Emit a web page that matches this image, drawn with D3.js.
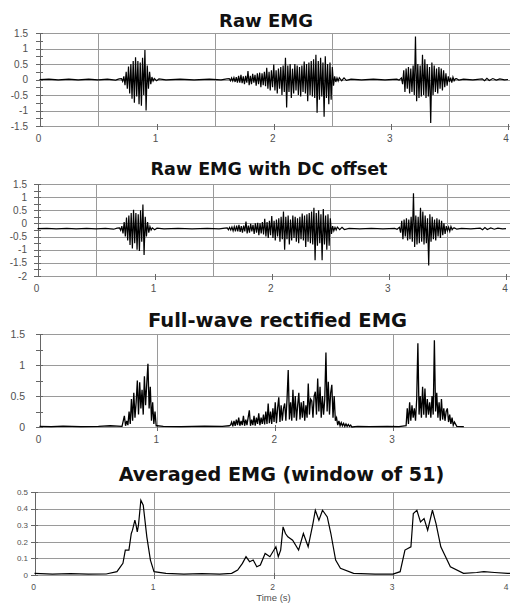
<!DOCTYPE html>
<html lang="en">
<head>
    <meta charset="utf-8">
    <title>EMG processing</title>
    <style>
        body {
            margin: 0;
            background: #fff;
        }
        svg { display: block; }
        .title {
            font-family: "DejaVu Sans", sans-serif;
            font-weight: bold;
            fill: #111;
            text-anchor: middle;
        }
        .tick-label {
            font-family: "Liberation Sans", Arial, sans-serif;
            fill: #505050;
        }
        .grid {
            stroke: #9a9a9a;
            stroke-width: 1px;
            shape-rendering: crispEdges;
        }
        .axis-line {
            stroke: #666;
            stroke-width: 1px;
            shape-rendering: crispEdges;
        }
        .signal {
            fill: none;
            stroke: #000;
        }
    </style>
    <script src="https://cdn.jsdelivr.net/npm/d3@7"></script>
</head>
<body>
<div id="chart"></div>
<script>
// time ticks shared by all panels (s)
var timeTicks = [0, 1, 2, 3, 4];
var sampleStep = 0.01;

// panel 1 - raw EMG
var rawYTicks = [-1.5, -1, -0.5, 0, 0.5, 1, 1.5];
var rawBurstStarts = [0.70, 1.62, 3.09];
var rawBurst1 = [0.03,-0.06,0.1,-0.18,0.25,-0.3,0.42,-0.45,0.5,-0.62,0.6,-0.75,0.72,-0.55,0.6,-0.8,0.55,-0.85,0.7,-0.5,0.95,-1.0,0.45,-0.3,0.25,-0.15,0.08,-0.05];
var rawBurst2 = [0.03,-0.04,0.05,-0.05,0.06,-0.08,0.08,-0.1,0.12,-0.1,
    0.15,-0.12,0.1,-0.15,0.12,-0.1,0.27,-0.18,0.12,-0.15,
    0.18,-0.1,0.15,-0.2,0.2,-0.15,0.22,-0.25,0.2,-0.18,
    0.25,-0.22,0.38,-0.3,0.25,-0.35,0.3,-0.25,0.48,-0.35,
    0.3,-0.45,0.35,-0.3,0.4,-0.5,0.45,-0.4,0.7,-0.9,
    0.45,-0.4,0.5,-0.6,0.35,-0.45,0.5,-0.35,0.45,-0.5,
    0.4,-0.55,0.45,-0.4,0.58,-0.45,0.5,-0.7,0.55,-0.5,
    0.6,-0.55,0.65,-0.6,0.8,-1.07,0.6,-0.65,0.7,-0.55,
    0.55,-1.2,0.75,-0.6,0.5,-0.8,0.55,-0.65,0.4,-0.2,
    0.1,-0.08,0.05];
var rawBurst3 = [0.05,-0.15,0.3,-0.4,0.35,-0.3,0.4,-0.45,0.35,-0.4,
    0.45,-0.5,1.39,-0.7,0.5,-0.6,0.45,-0.55,0.8,-0.5,
    0.65,-0.6,0.5,-0.55,0.4,-1.4,0.55,-0.5,0.45,-0.4,
    0.35,-0.45,0.4,-0.3,0.35,-0.35,0.3,-0.25,0.2,-0.2,
    0.1,-0.08,0.06,-0.1,0.08,-0.04,0.02];
var rawQuiet = [[0,0],[0.08,0.01],[0.16,-0.01],[0.25,0.01],[0.33,-0.01],[0.42,0.01],[0.5,-0.01],[0.58,0.01],[0.65,-0.02],[0.68,0.02],
    [0.98,0.03],[1.0,-0.04],[1.02,0.02],[1.08,-0.01],[1.2,0.01],[1.32,-0.01],[1.45,0.01],[1.55,-0.01],[1.6,0.02],
    [2.55,-0.05],[2.56,0.06],[2.58,-0.04],[2.6,0.05],[2.62,-0.03],[2.66,0.01],[2.75,-0.01],[2.85,0.01],[2.95,-0.01],[3.05,0.01],[3.07,-0.02],
    [3.56,0.03],[3.58,-0.02],[3.62,0.01],[3.7,-0.01],[3.78,0.02],[3.8,-0.04],[3.82,0.04],[3.84,-0.03],[3.87,0.03],[3.9,-0.02],[3.93,0.02],[3.97,-0.01],[4.0,0]];

// panel 2 - raw EMG with DC offset
var dcYTicks = [-2, -1.5, -1, -0.5, 0, 0.5, 1, 1.5];
var dcBurstStarts = [0.70, 1.62, 3.09];
var dcBurst1 = [-0.17,-0.26,-0.1,-0.38,0.05,-0.5,0.22,-0.65,0.3,-0.82,0.4,-0.95,0.52,-0.75,0.4,-1.0,0.35,-1.05,0.5,-0.7,0.72,-1.2,0.25,-0.5,0.05,-0.35,-0.12,-0.25];
var dcBurst2 = [-0.17,-0.24,-0.15,-0.25,-0.14,-0.28,-0.12,-0.3,-0.08,-0.3,
    -0.05,-0.32,-0.1,-0.35,-0.08,-0.3,0.07,-0.38,-0.08,-0.35,
    -0.02,-0.3,-0.05,-0.4,0.0,-0.35,0.02,-0.45,0.0,-0.38,
    0.05,-0.42,0.18,-0.5,0.05,-0.55,0.1,-0.45,0.28,-0.55,
    0.1,-0.65,0.15,-0.5,0.2,-0.7,0.25,-0.6,0.45,-1.0,
    0.25,-0.6,0.3,-0.8,0.15,-0.65,0.3,-0.55,0.25,-0.7,
    0.2,-0.75,0.25,-0.6,0.38,-0.65,0.3,-0.9,0.35,-0.7,
    0.4,-0.75,0.45,-0.8,0.6,-1.4,0.4,-0.85,0.5,-0.75,
    0.35,-1.4,0.55,-0.8,0.3,-1.0,0.35,-0.85,0.2,-0.4,
    -0.1,-0.28,-0.15];
var dcBurst3 = [-0.15,-0.35,0.1,-0.6,0.15,-0.5,0.2,-0.65,0.15,-0.6,
    0.25,-0.7,1.15,-0.9,0.3,-0.8,0.25,-0.75,0.6,-0.7,
    0.45,-0.8,0.3,-0.75,0.2,-1.6,0.35,-0.7,0.25,-0.6,
    0.15,-0.65,0.2,-0.5,0.15,-0.55,0.1,-0.45,0.0,-0.4,
    -0.1,-0.28,-0.14,-0.3,-0.12,-0.24,-0.18];
var dcQuiet = [[0,-0.2],[0.08,-0.19],[0.16,-0.21],[0.25,-0.19],[0.33,-0.21],[0.42,-0.19],[0.5,-0.21],[0.58,-0.19],[0.65,-0.22],[0.68,-0.18],
    [0.98,-0.17],[1.0,-0.24],[1.02,-0.18],[1.08,-0.21],[1.2,-0.19],[1.32,-0.21],[1.45,-0.19],[1.55,-0.21],[1.6,-0.18],
    [2.55,-0.25],[2.56,-0.14],[2.58,-0.24],[2.6,-0.15],[2.62,-0.23],[2.66,-0.19],[2.75,-0.21],[2.85,-0.19],[2.95,-0.21],[3.05,-0.19],[3.07,-0.22],
    [3.56,-0.17],[3.58,-0.22],[3.62,-0.19],[3.7,-0.21],[3.78,-0.18],[3.8,-0.24],[3.82,-0.16],[3.84,-0.23],[3.87,-0.17],[3.9,-0.22],[3.93,-0.18],[3.97,-0.21],[4.0,-0.2]];

// panel 3 - full-wave rectified
var rectYTicks = [0, 0.5, 1, 1.5];
var rectTimeTicks = [0, 1, 2, 3];
var rectBurstStarts = [0.72, 1.62, 3.12];
var rectBurst1 = [0.18,0.02,0.1,0.03,0.25,0.05,0.45,0.1,0.55,0.15,0.4,0.75,0.2,0.72,0.3,0.6,0.2,0.82,0.35,0.7,1.02,0.3,0.65,0.1,0.4,0.05,0.25,0.02];
var rectBurst2 = [0.03,0.08,0.01,0.1,0.02,0.12,0.03,0.15,0.02,0.1,
    0.03,0.18,0.02,0.12,0.03,0.15,0.27,0.02,0.12,0.03,
    0.18,0.02,0.15,0.05,0.22,0.03,0.15,0.05,0.2,0.04,
    0.25,0.05,0.38,0.06,0.25,0.05,0.3,0.08,0.4,0.06,
    0.3,0.48,0.08,0.35,0.1,0.3,0.38,0.1,0.45,0.92,
    0.12,0.4,0.1,0.6,0.15,0.5,0.1,0.35,0.55,0.12,
    0.4,0.15,0.42,0.1,0.35,0.15,0.7,0.2,0.45,0.42,
    0.15,0.5,0.57,0.2,0.78,0.25,0.65,0.15,0.5,0.2,
    0.45,1.2,0.25,0.73,0.2,0.55,0.68,0.15,0.5,0.1,
    0.15,0.03,0.1,0.02,0.07,0.02,0.06,0.01,0.05,0.01,
    0.04,0.01,0.03,0.0];
var rectBurst3 = [0.3,0.05,0.4,0.1,0.35,0.15,0.3,0.1,0.45,1.35,
    0.2,0.5,0.15,0.65,0.2,0.62,0.15,0.45,0.2,0.4,
    0.15,0.5,0.2,1.4,0.25,0.55,0.15,0.4,0.1,0.45,
    0.12,0.3,0.1,0.25,0.3,0.08,0.2,0.05,0.15,0.03,0.08];
var rectQuiet = [[0,0.01],[0.1,0.005],[0.2,0.015],[0.35,0.005],[0.5,0.01],[0.6,0.02],[0.7,0.01],
    [1.0,0.02],[1.05,0.01],[1.2,0.005],[1.4,0.015],[1.55,0.01],[1.61,0.02],
    [2.7,0.01],[2.8,0.005],[2.95,0.01],[3.05,0.005],[3.11,0.02],[3.54,0.01],[3.6,0.005]];

// panel 4 - moving average, [time, value]
var avgYTicks = [0, 0.1, 0.2, 0.3, 0.4, 0.5];
var avgPoints = [[0,0.01],[0.15,0.005],[0.3,0.008],[0.45,0.005],[0.6,0.006],[0.69,0.02],[0.72,0.05],[0.74,0.07],[0.76,0.15],[0.79,0.15],
    [0.81,0.25],[0.82,0.27],[0.84,0.33],[0.85,0.3],[0.86,0.26],[0.87,0.3],[0.89,0.45],[0.91,0.42],[0.94,0.23],[0.97,0.09],
    [1.0,0.02],[1.1,0.01],[1.25,0.005],[1.4,0.008],[1.55,0.005],[1.65,0.01],[1.7,0.03],[1.74,0.07],[1.77,0.11],[1.8,0.08],
    [1.83,0.09],[1.86,0.05],[1.89,0.06],[1.93,0.13],[1.97,0.11],[2.02,0.17],[2.04,0.11],[2.06,0.15],[2.08,0.29],[2.1,0.25],
    [2.12,0.23],[2.16,0.21],[2.21,0.15],[2.25,0.25],[2.29,0.17],[2.33,0.31],[2.35,0.39],[2.38,0.33],[2.41,0.39],[2.45,0.35],
    [2.48,0.25],[2.52,0.09],[2.56,0.04],[2.67,0.01],[2.85,0.005],[3.0,0.005],[3.06,0.02],[3.1,0.15],[3.15,0.17],[3.17,0.37],
    [3.2,0.39],[3.23,0.32],[3.26,0.34],[3.29,0.27],[3.33,0.39],[3.36,0.31],[3.4,0.17],[3.44,0.11],[3.48,0.05],[3.59,0.01],
    [3.7,0.015],[3.76,0.02],[3.85,0.015],[3.96,0.01],[4.0,0.01]];

// put sampled bursts and quiet stretches together in time order
function joinSeries(starts, bursts, quiet) {
    var pts = quiet.slice();
    bursts.forEach(function(b, i) {
        b.forEach(function(v, j) { pts.push([starts[i] + j * sampleStep, v]); });
    });
    pts.sort(function(a, b) { return a[0] - b[0]; });
    return pts;
}

function minorTicks(ticks) {
    var out = [];
    for (var i = 0; i < ticks.length - 1; i++) out.push((ticks[i] + ticks[i + 1]) / 2);
    return out;
}

var panels = [
    {
        title: "Raw EMG", titleX: 266, titleY: 26.5, titleSize: 18,
        xRange: [39.5, 508], yDomain: [-1.5, 1.5], yRange: [126, 33],
        yTicks: rawYTicks, minor: true, vGrid: [0.5, 1.5, 2.5, 3.5], xLabels: timeTicks,
        labelRight: 28, labelSize: 10, xLabelY: 142, xLabelSize: 10, stroke: 1.2,
        data: joinSeries(rawBurstStarts, [rawBurst1, rawBurst2, rawBurst3], rawQuiet)
    },
    {
        title: "Raw EMG with DC offset", titleX: 269, titleY: 174.5, titleSize: 17.5,
        xRange: [37.5, 506], yDomain: [-2, 1.5], yRange: [276, 184],
        yTicks: dcYTicks, minor: true, vGrid: [0.5, 1.5, 2.5, 3.5], xLabels: timeTicks,
        labelRight: 27, labelSize: 10, xLabelY: 292, xLabelSize: 10, stroke: 1.2,
        data: joinSeries(dcBurstStarts, [dcBurst1, dcBurst2, dcBurst3], dcQuiet)
    },
    {
        title: "Full-wave rectified EMG", titleX: 277.5, titleY: 326.5, titleSize: 19.5,
        xRange: [39.5, 511], yDomain: [0, 1.5], yRange: [427, 334],
        yTicks: rectYTicks, minor: true, vGrid: [1, 3], xLabels: rectTimeTicks,
        labelRight: 25, labelSize: 10.5, xLabelY: 443, xLabelSize: 10, stroke: 1.3,
        data: joinSeries(rectBurstStarts, [rectBurst1, rectBurst2, rectBurst3], rectQuiet)
    },
    {
        title: "Averaged EMG (window of 51)", titleX: 281.5, titleY: 481, titleSize: 19.2,
        xRange: [34.5, 512.5], yDomain: [0, 0.5], yRange: [575, 492],
        yTicks: avgYTicks, minor: false, vGrid: [1, 2, 3], xLabels: timeTicks,
        labelRight: 28, labelSize: 8, xLabelY: 590, xLabelSize: 8.5, stroke: 1.2,
        data: avgPoints, xTitle: "Time (s)"
    }
];

var svg = d3.select("#chart").append("svg")
    .attr("width", 510)
    .attr("height", 606);

panels.forEach(function(p) {
    var x = d3.scaleLinear().domain([0, 4]).range(p.xRange);
    var y = d3.scaleLinear().domain(p.yDomain).range(p.yRange);
    var g = svg.append("g");
    var left = x(0), right = 510;
    var bottom = y(p.yDomain[0]);

    g.append("text")
        .attr("class", "title")
        .attr("x", p.titleX)
        .attr("y", p.titleY)
        .style("font-size", p.titleSize + "px")
        .text(p.title);

    // horizontal grid
    g.selectAll(".hgrid")
        .data(p.yTicks)
        .enter().append("line")
        .attr("class", "grid")
        .attr("x1", left).attr("x2", right)
        .attr("y1", function(d) { return Math.round(y(d)) + 0.5; })
        .attr("y2", function(d) { return Math.round(y(d)) + 0.5; });

    // vertical grid
    g.selectAll(".vgrid")
        .data(p.vGrid)
        .enter().append("line")
        .attr("class", "grid")
        .attr("x1", function(d) { return Math.round(x(d)) + 0.5; })
        .attr("x2", function(d) { return Math.round(x(d)) + 0.5; })
        .attr("y1", y(p.yDomain[1])).attr("y2", bottom);

    // y axis line and ticks
    g.append("line")
        .attr("class", "axis-line")
        .attr("x1", Math.round(left) + 0.5).attr("x2", Math.round(left) + 0.5)
        .attr("y1", y(p.yDomain[1])).attr("y2", bottom);

    var yt = p.minor ? p.yTicks.concat(minorTicks(p.yTicks)) : p.yTicks;
    g.selectAll(".ytick")
        .data(yt)
        .enter().append("line")
        .attr("class", "axis-line")
        .attr("x1", left - 4).attr("x2", left + 3)
        .attr("y1", function(d) { return Math.round(y(d)) + 0.5; })
        .attr("y2", function(d) { return Math.round(y(d)) + 0.5; });

    g.selectAll(".ylabel")
        .data(p.yTicks)
        .enter().append("text")
        .attr("class", "tick-label")
        .attr("x", p.labelRight)
        .attr("y", function(d) { return y(d); })
        .attr("dy", "0.35em")
        .attr("text-anchor", "end")
        .style("font-size", p.labelSize + "px")
        .text(function(d) { return String(d); });

    // x ticks and labels
    g.selectAll(".xtick")
        .data(timeTicks.slice(1))
        .enter().append("line")
        .attr("class", "axis-line")
        .attr("x1", function(d) { return Math.round(x(d)) + 0.5; })
        .attr("x2", function(d) { return Math.round(x(d)) + 0.5; })
        .attr("y1", bottom - 2).attr("y2", bottom + 4);

    g.selectAll(".xlabel")
        .data(p.xLabels)
        .enter().append("text")
        .attr("class", "tick-label")
        .attr("x", function(d) { return Math.min(x(d) - 1, 506); })
        .attr("y", p.xLabelY)
        .attr("text-anchor", "middle")
        .style("font-size", p.xLabelSize + "px")
        .text(function(d) { return d; });

    if (p.xTitle) {
        g.append("text")
            .attr("class", "tick-label")
            .attr("x", x(2))
            .attr("y", 601)
            .attr("text-anchor", "middle")
            .style("font-size", "9.5px")
            .text(p.xTitle);
    }

    var line = d3.line()
        .x(function(d) { return x(d[0]); })
        .y(function(d) { return y(d[1]); });

    g.append("path")
        .datum(p.data)
        .attr("class", "signal")
        .attr("stroke-width", p.stroke)
        .attr("d", line);
});
</script>
</body>
</html>
